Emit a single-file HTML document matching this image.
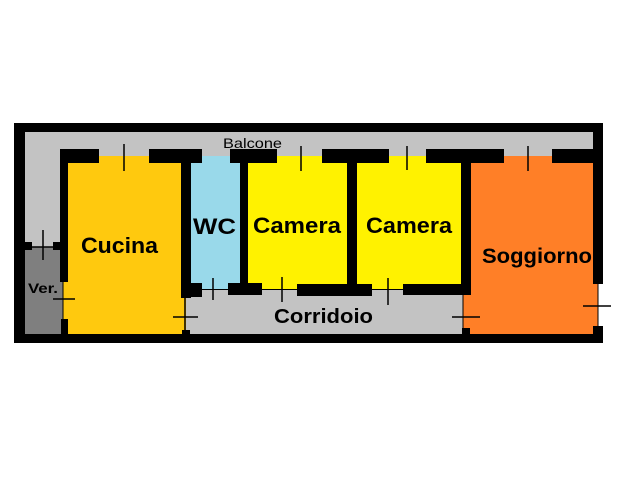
<!DOCTYPE html>
<html><head><meta charset="utf-8"><style>
html,body{margin:0;padding:0;background:#fff;}
svg{display:block;}
text{font-family:"Liberation Sans",Arial,sans-serif;fill:#000;}
</style></head><body>
<svg width="640" height="480" viewBox="0 0 640 480" xmlns="http://www.w3.org/2000/svg">
<rect x="0" y="0" width="640" height="480" fill="#fff"/>
<!-- outer frame -->
<rect x="14" y="123" width="589" height="220" fill="#000"/>
<rect x="598" y="284" width="6" height="42" fill="#fff"/>
<!-- balcone gray -->
<rect x="25" y="132" width="568" height="24" fill="#c3c3c3"/>
<rect x="25" y="132" width="35" height="115" fill="#c3c3c3"/>
<!-- Ver -->
<rect x="25" y="247" width="38" height="87" fill="#7f7f7f"/>
<!-- Cucina -->
<rect x="63" y="156" width="118" height="178" fill="#ffc90e"/>
<rect x="181" y="296" width="5" height="38" fill="#ffc90e"/>
<!-- WC -->
<rect x="191" y="156" width="49" height="134" fill="#99d9ea"/>
<!-- Camera 1 -->
<rect x="248" y="156" width="99" height="133" fill="#fff200"/>
<!-- Camera 2 -->
<rect x="357" y="156" width="104" height="133" fill="#fff200"/>
<!-- Corridoio -->
<rect x="186" y="289" width="277" height="45" fill="#c3c3c3"/>
<!-- Soggiorno -->
<rect x="471" y="156" width="127" height="178" fill="#ff7f27"/>
<rect x="463" y="290" width="10" height="44" fill="#ff7f27"/>

<!-- walls -->
<g fill="#000">
<!-- top interior wall segments -->
<rect x="60" y="149" width="39" height="14"/>
<rect x="149" y="149" width="53" height="14"/>
<rect x="230" y="149" width="47" height="14"/>
<rect x="322" y="149" width="67" height="14"/>
<rect x="426" y="149" width="78" height="14"/>
<rect x="552" y="149" width="41" height="14"/>
<!-- Cucina left -->
<rect x="60" y="149" width="8" height="133"/>
<rect x="61" y="319" width="7" height="15"/>
<!-- Ver top -->
<rect x="25" y="242" width="7" height="8"/>
<rect x="53" y="242" width="8" height="8"/>
<!-- Cucina right / WC left -->
<rect x="181" y="149" width="10" height="149"/>
<rect x="181" y="283" width="21" height="14"/>
<rect x="182" y="330" width="8" height="5"/>
<!-- WC right -->
<rect x="240" y="149" width="8" height="141"/>
<rect x="228" y="283" width="34" height="12"/>
<!-- Camera1 bottom -->
<rect x="297" y="284" width="75" height="12"/>
<!-- between cameras -->
<rect x="347" y="149" width="10" height="147"/>
<!-- Camera2 bottom -->
<rect x="403" y="284" width="68" height="11"/>
<!-- Soggiorno left -->
<rect x="461" y="149" width="10" height="146"/>
<rect x="462" y="328" width="8" height="7"/>
<!-- Soggiorno right -->
<rect x="593" y="123" width="10" height="161"/>
<rect x="593" y="326" width="10" height="17"/>
</g>

<!-- door / window lines -->
<g stroke="#000" stroke-width="1.5" fill="none">
<line x1="124" y1="144" x2="124" y2="171"/>
<line x1="301" y1="146" x2="301" y2="171"/>
<line x1="407" y1="146" x2="407" y2="170"/>
<line x1="528" y1="146" x2="528" y2="171"/>
<line x1="43" y1="230" x2="43" y2="260"/>
<line x1="32" y1="247" x2="53" y2="247"/>
<line x1="53" y1="299" x2="75" y2="299"/>
<line x1="173" y1="317" x2="198" y2="317"/>
<line x1="185" y1="298" x2="185" y2="330"/>
<line x1="213" y1="278" x2="213" y2="300"/>
<line x1="282" y1="277" x2="282" y2="302"/>
<line x1="388" y1="278" x2="388" y2="305"/>
<line x1="452" y1="317" x2="480" y2="317"/>
<line x1="583" y1="306" x2="611" y2="306"/>
</g>
<g stroke="#000" stroke-width="1" fill="none">
<line x1="63" y1="282" x2="63" y2="319"/>
<line x1="463" y1="295" x2="463" y2="328"/>
<line x1="598" y1="284" x2="598" y2="326"/>
<line x1="202" y1="289.5" x2="228" y2="289.5"/>
<line x1="262" y1="289.5" x2="297" y2="289.5"/>
<line x1="372" y1="289.5" x2="403" y2="289.5"/>
</g>

<!-- labels -->
<text x="223" y="148" font-size="14" textLength="59" lengthAdjust="spacingAndGlyphs">Balcone</text>
<text x="81" y="253" font-size="22" font-weight="bold" textLength="77" lengthAdjust="spacingAndGlyphs">Cucina</text>
<text x="193" y="234" font-size="22" font-weight="bold" textLength="43" lengthAdjust="spacingAndGlyphs">WC</text>
<text x="253" y="233" font-size="22" font-weight="bold" textLength="88" lengthAdjust="spacingAndGlyphs">Camera</text>
<text x="366" y="233" font-size="22" font-weight="bold" textLength="86" lengthAdjust="spacingAndGlyphs">Camera</text>
<text x="482" y="263" font-size="21" font-weight="bold" textLength="110" lengthAdjust="spacingAndGlyphs">Soggiorno</text>
<text x="274" y="323" font-size="20" font-weight="bold" textLength="99" lengthAdjust="spacingAndGlyphs">Corridoio</text>
<text x="28" y="293" font-size="14" font-weight="bold" textLength="30" lengthAdjust="spacingAndGlyphs">Ver.</text>
</svg>
</body></html>
